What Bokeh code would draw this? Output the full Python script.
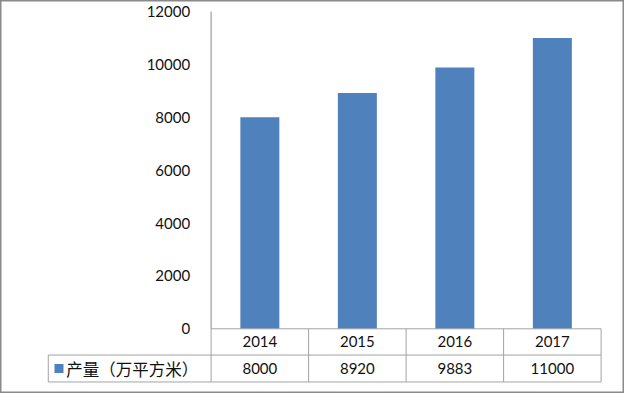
from bokeh.plotting import figure
from bokeh.models import Range1d
from bokeh.core.properties import value
from bokeh.embed import file_html
from bokeh.resources import INLINE

# ---- data ----
years = ["2014", "2015", "2016", "2017"]
output = [8000, 8920, 9883, 11000]
series_name = "产量（万平方米）"
y_ticks = [0, 2000, 4000, 6000, 8000, 10000, 12000]

# ---- layout helpers (data units) ----
xs = list(range(len(years)))
x_left_axis = xs[0] - 0.5
x_right = xs[-1] + 0.5
x_table_left = -2.17
row1_bottom = -993
row2_bottom = -2011
y_max = y_ticks[-1]

BAR = "#4F81BD"
AXIS = "#898989"
GRIDC = "#a3a3a3"
DIGIT_FONT = value("Lato")
CJK_FONT = value("Noto Sans CJK SC")

p = figure(width=624, height=393,
           x_range=Range1d(-2.66, 3.74), y_range=Range1d(-2447, 12418),
           output_backend="svg", toolbar_location=None,
           x_axis_type=None, y_axis_type=None, min_border=0)
p.grid.visible = False
p.outline_line_color = "#8a8a8a"
p.outline_line_width = 2
p.background_fill_color = "white"
p.border_fill_color = "white"

# bars
p.vbar(x=xs, top=output, width=0.4, color=BAR, line_color=None)

# y axis line
p.segment(x0=[x_left_axis], y0=[0], x1=[x_left_axis], y1=[y_max],
          line_color=AXIS, line_width=1)

# y tick labels
p.text(x=[x_left_axis - 0.215] * len(y_ticks), y=y_ticks,
       text=[str(t) for t in y_ticks], text_align="right",
       text_baseline="middle", text_font=DIGIT_FONT,
       text_font_size="15px", text_color="#111111")

# table lines - horizontal
p.segment(x0=[x_left_axis, x_table_left, x_table_left],
          y0=[0, row1_bottom, row2_bottom],
          x1=[x_right, x_right, x_right],
          y1=[0, row1_bottom, row2_bottom],
          line_color=GRIDC, line_width=1)
# table lines - vertical
v_x = [x_table_left, x_left_axis] + [x + 0.5 for x in xs]
v_y0 = [row1_bottom, 0] + [0] * len(xs)
p.segment(x0=v_x, y0=v_y0, x1=v_x, y1=[row2_bottom] * len(v_x),
          line_color=GRIDC, line_width=1)

# year labels
p.text(x=xs, y=[row1_bottom / 2] * len(xs), text=years,
       text_align="center", text_baseline="middle", text_font=DIGIT_FONT,
       text_font_size="15px", text_color="#111111")
# value labels
p.text(x=xs, y=[(row1_bottom + row2_bottom) / 2] * len(xs),
       text=[str(v) for v in output],
       text_align="center", text_baseline="middle", text_font=DIGIT_FONT,
       text_font_size="15px", text_color="#111111")

# legend key + series name
p.scatter(x=[x_table_left + 0.11], y=[(row1_bottom + row2_bottom) / 2],
          marker="square", size=9, color=BAR, line_color=None)
p.text(x=[x_table_left + 0.185], y=[(row1_bottom + row2_bottom) / 2],
       text=[series_name], text_align="left", text_baseline="middle",
       text_font=CJK_FONT, text_font_size="16.5px", text_color="#111111")

open("out.html", "w").write(file_html(p, INLINE))
